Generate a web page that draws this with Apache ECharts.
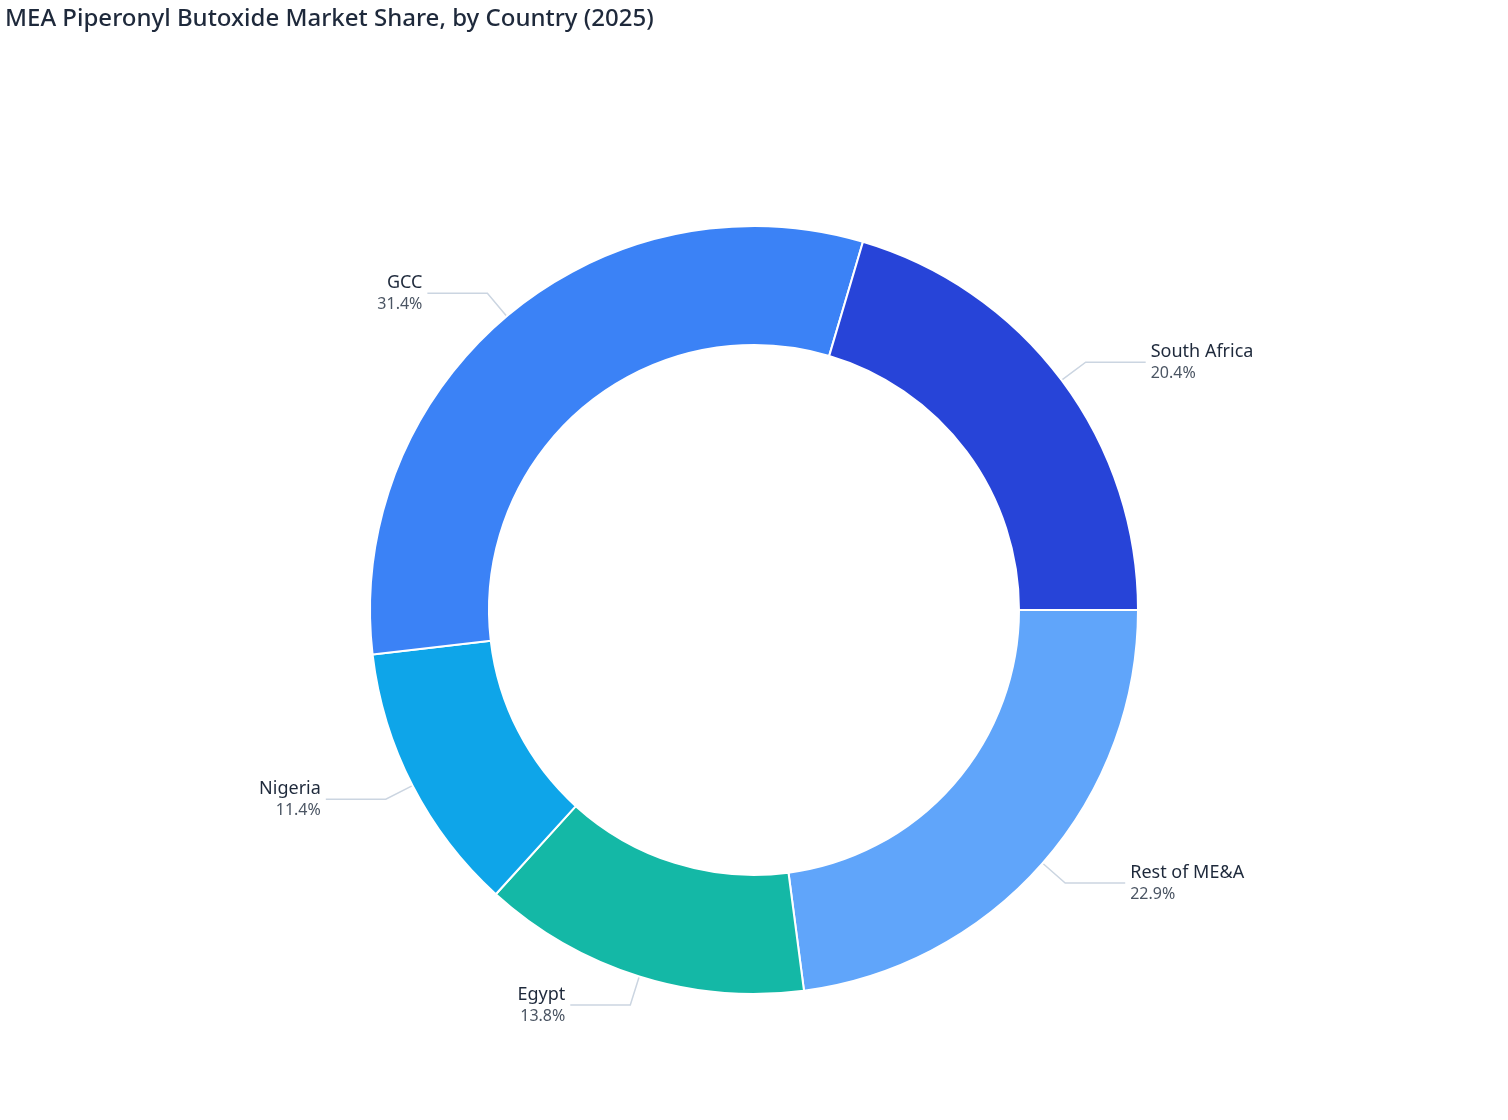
<!DOCTYPE html>
<html><head><meta charset="utf-8">
<script src="https://cdn.jsdelivr.net/npm/echarts@6/dist/echarts.min.js"></script>
<style>html,body{margin:0;padding:0;background:#fff}#c{width:1508px;height:1120px}</style>
</head><body><div id="c"></div>
<script>
const categories = ['Rest of ME&A','Egypt','Nigeria','GCC','South Africa'];
const shares = [22.9, 13.8, 11.4, 31.4, 20.4];
const colors = ['#60A5FA','#14B8A6','#0EA5E9','#3B82F6','#2744D8'];
const chart = echarts.init(document.getElementById('c'));
chart.setOption({
  animation:false,
  title:{text:'MEA Piperonyl Butoxide Market Share, by Country (2025)',left:0,top:2,
    textStyle:{fontFamily:'Noto Sans',fontSize:24,fontWeight:500,color:'#1e293b'}},
  series:[{
    type:'pie',
    center:[754,610],
    radius:[265,384],
    startAngle:0,
    clockwise:true,
    itemStyle:{borderColor:'#fff',borderWidth:2},
    label:{
      formatter:p=>'{n|'+p.name+'}\n{p|'+p.value+'%}',
      rich:{
        n:{fontFamily:'Noto Sans',fontSize:18,color:'#1e293b',lineHeight:22},
        p:{fontFamily:'Noto Sans',fontSize:16,color:'#4b5563',lineHeight:20}
      }
    },
    labelLine:{length:30,length2:60,lineStyle:{color:'#cbd5e1',width:1.5}},
    data:categories.map((c,i)=>({name:c,value:shares[i],itemStyle:{color:colors[i]}}))
  }]
});
</script></body></html>
